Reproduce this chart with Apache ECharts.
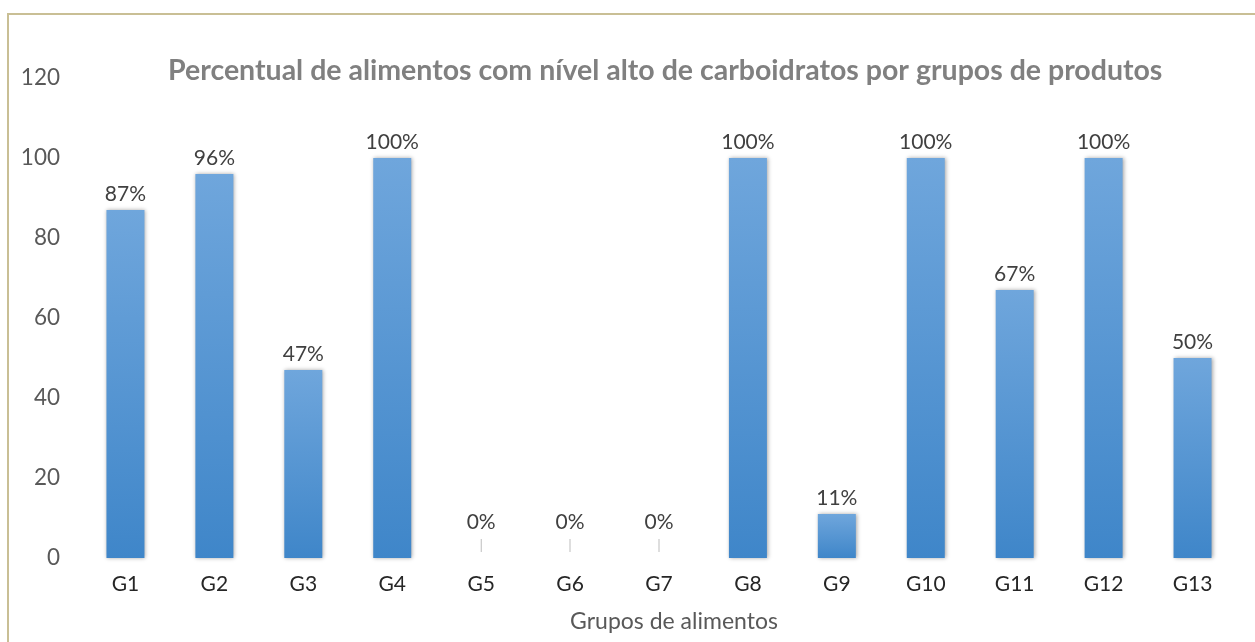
<!DOCTYPE html>
<html>
<head>
<meta charset="utf-8">
<script src="https://cdn.jsdelivr.net/npm/echarts@6/dist/echarts.min.js"></script>
<style>
  html, body { margin: 0; padding: 0; background: #fff; }
  #frame { position: absolute; left: 7px; top: 13px; width: 1260px; height: 640px; border: 2px solid #c9bf95; box-sizing: border-box; }
  #chart { position: absolute; left: 0; top: 0; width: 1255px; height: 642px; }
</style>
</head>
<body>
<div id="frame"></div>
<div id="chart"></div>
<script>
const titleText = 'Percentual de alimentos com nível alto de carboidratos por grupos de produtos'
const categories = ['G1', 'G2', 'G3', 'G4', 'G5', 'G6', 'G7', 'G8', 'G9', 'G10', 'G11', 'G12', 'G13']
const percentValues = [87, 96, 47, 100, 0, 0, 0, 100, 11, 100, 67, 100, 50]
const yTicks = { min: 0, max: 120, interval: 20 }
const xAxisName = 'Grupos de alimentos'

const chart = echarts.init(document.getElementById('chart'))
chart.setOption({
    backgroundColor: 'transparent',
    textStyle: { fontFamily: 'Lato' },
    title: {
        text: titleText,
        left: 163,
        top: 51,
        textStyle: {
            fontFamily: 'Lato',
            fontSize: 28.5,
            fontWeight: 'bold',
            color: '#808080'
        }
    },
    grid: {
        left: 81,
        right: 18,
        top: 78,
        bottom: 84
    },
    xAxis: {
        type: 'category',
        data: categories,
        name: xAxisName,
        nameLocation: 'middle',
        nameGap: 52,
        // nome um pouco à direita do centro, como no original
        nameTextStyle: { fontFamily: 'Lato', fontSize: 23, color: '#595959', padding: [0, 0, 0, 30] },
        axisLine: { show: false },
        axisTick: { show: false },
        axisLabel: { fontFamily: 'Lato', fontSize: 21, color: '#262626', margin: 16 }
    },
    yAxis: {
        type: 'value',
        min: yTicks.min,
        max: yTicks.max,
        interval: yTicks.interval,
        splitLine: { show: false },
        axisLine: { show: false },
        axisTick: { show: false },
        axisLabel: { fontFamily: 'Lato', fontSize: 22.5, color: '#595959', margin: 21 }
    },
    series: [{
        type: 'bar',
        data: percentValues,
        barWidth: 38,
        itemStyle: {
            color: new echarts.graphic.LinearGradient(0, 0, 0, 1, [
                { offset: 0, color: '#6fa6dc' },
                { offset: 1, color: '#3f86c9' }
            ]),
            shadowBlur: 4,
            shadowColor: 'rgba(0,0,0,0.35)',
            shadowOffsetX: 1
        },
        label: {
            show: true,
            position: 'top',
            distance: 5,
            fontFamily: 'Lato',
            fontSize: 21,
            color: '#404040',
            formatter: p => p.value === 0 ? '0%\n{t||}' : p.value + '%',
            rich: {
                t: { fontSize: 14, color: '#bfbfbf', lineHeight: 20, padding: [4, 0, 0, 0] }
            }
        }
    }]
})
</script>
</body>
</html>
